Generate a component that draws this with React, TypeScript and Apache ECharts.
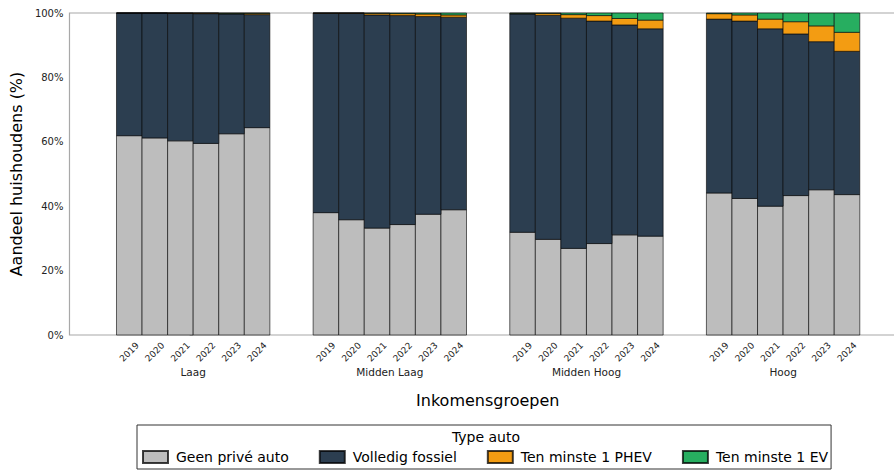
import React, { useEffect, useRef } from "react";
import * as echarts from "echarts";

const groups = ["Laag", "Midden Laag", "Midden Hoog", "Hoog"];
const years = ["2019", "2020", "2021", "2022", "2023", "2024"];
const seriesNames = ["Geen privé auto", "Volledig fossiel", "Ten minste 1 PHEV", "Ten minste 1 EV"];

// values per group (Laag, Midden Laag, Midden Hoog, Hoog) x year 2019..2024, in %
const geenAuto = [
  61.9, 61.2, 60.3, 59.5, 62.5, 64.4,
  38.0, 35.8, 33.2, 34.3, 37.5, 38.9,
  31.9, 29.7, 26.9, 28.4, 31.1, 30.7,
  44.1, 42.4, 40.0, 43.3, 45.1, 43.6,
];
const fossiel = [
  38.1, 38.8, 39.6, 40.3, 37.2, 35.1,
  61.9, 64.1, 66.2, 64.9, 61.4, 59.8,
  67.8, 69.6, 71.5, 69.1, 65.2, 64.4,
  54.0, 55.1, 55.1, 50.2, 46.0, 44.5,
];
const phev = [
  0.0, 0.0, 0.1, 0.2, 0.2, 0.4,
  0.1, 0.1, 0.5, 0.6, 0.8, 0.7,
  0.2, 0.6, 1.1, 1.7, 2.0, 2.7,
  1.7, 1.9, 3.0, 3.8, 4.9, 5.9,
];
const ev = [
  0.0, 0.0, 0.0, 0.0, 0.1, 0.1,
  0.0, 0.0, 0.1, 0.2, 0.3, 0.6,
  0.1, 0.1, 0.5, 0.8, 1.7, 2.2,
  0.2, 0.6, 1.9, 2.7, 4.0, 6.0,
];
const seriesValues = [geenAuto, fossiel, phev, ev];

const colors = ["#bdbdbd", "#2c3e50", "#f39c12", "#27ae60"];
const EDGE = "rgba(0,0,0,0.75)";
const BAR_W = 0.13;
const X_MIN = -0.629;
const X_MAX = 3.625;
const FONT = "DejaVu Sans";

const centers = groups.flatMap((_, gi) => years.map((_, j) => gi + (j - 2.5) * BAR_W));

export default function App() {
  const ref = useRef<HTMLDivElement>(null);
  useEffect(() => {
    if (!ref.current) return;
    const chart = echarts.init(ref.current, null, { renderer: "svg" });

    const series = seriesNames.map((name, si) => {
      const data = centers.map((c, i) => {
        let base = 0;
        for (let k = 0; k < si; k++) base += seriesValues[k][i];
        return [c, base, seriesValues[si][i]];
      });
      return {
        name,
        type: "custom",
        xAxisIndex: 0,
        yAxisIndex: 0,
        itemStyle: { color: colors[si], borderColor: EDGE, borderWidth: 0.8 },
        encode: { x: 0, y: 2 },
        data,
        renderItem: (params: any, api: any) => {
          const x = api.value(0);
          const base = api.value(1);
          const val = api.value(2);
          const p0 = api.coord([x, base]);
          const p1 = api.coord([x, base + val]);
          const w = api.size([BAR_W, 0])[0];
          return {
            type: "rect",
            shape: { x: p0[0] - w / 2, y: p1[1], width: w, height: p0[1] - p1[1] },
            style: { fill: colors[si], stroke: EDGE, lineWidth: 0.8 },
          };
        },
      };
    });

    const option: any = {
      animation: false,
      textStyle: { fontFamily: FONT },
      grid: {
        left: 68,
        top: 13,
        width: 838,
        height: 322,
        show: true,
        borderColor: "#a8a8a8",
        borderWidth: 1.2,
        backgroundColor: "transparent",
      },
      xAxis: [
        {
          type: "value",
          min: X_MIN,
          max: X_MAX,
          axisLine: { show: false },
          axisTick: { show: false },
          splitLine: { show: false },
          axisLabel: {
            customValues: centers,
            formatter: (v: number) => {
              const i = centers.findIndex((c) => Math.abs(c - v) < 1e-6);
              return i >= 0 ? years[i % years.length] : "";
            },
            rotate: 45,
            align: "center",
            verticalAlign: "middle",
            margin: 17,
            fontSize: 9,
            color: "#222",
            fontFamily: FONT,
          },
        },
        {
          type: "value",
          min: X_MIN,
          max: X_MAX,
          position: "bottom",
          axisLine: { show: false },
          axisTick: { show: false },
          splitLine: { show: false },
          axisLabel: {
            customValues: groups.map((_, i) => i),
            formatter: (v: number) => groups[Math.round(v)] ?? "",
            margin: 31,
            fontSize: 10.5,
            color: "#222",
            fontFamily: FONT,
          },
          name: "Inkomensgroepen",
          nameLocation: "middle",
          nameGap: 57,
          nameTextStyle: { fontSize: 16, color: "#000", fontFamily: FONT },
        },
      ],
      yAxis: {
        type: "value",
        min: 0,
        max: 100,
        interval: 20,
        axisLine: { show: false },
        axisTick: { show: true, length: 3.5, lineStyle: { color: "#a8a8a8" } },
        splitLine: { show: false },
        axisLabel: { formatter: "{value}%", fontSize: 10, color: "#222", margin: 6, fontFamily: FONT },
        name: "Aandeel huishoudens (%)",
        nameLocation: "middle",
        nameGap: 40,
        nameTextStyle: { fontSize: 16, color: "#000", fontFamily: FONT },
      },
      legend: {
        left: 137,
        top: 425,
        orient: "horizontal",
        icon: "rect",
        itemWidth: 25,
        itemHeight: 12,
        itemGap: 30,
        padding: [25, 3, 5, 5],
        borderColor: "#333",
        borderWidth: 1,
        borderRadius: 0,
        textStyle: { fontSize: 14, color: "#000", fontFamily: FONT, padding: [0, 0, 0, 3] },
        data: seriesNames,
      },
      graphic: [
        {
          type: "text",
          x: 486,
          y: 437,
          style: {
            text: "Type auto",
            fontSize: 14,
            fontFamily: FONT,
            fill: "#000",
            align: "center",
            verticalAlign: "middle",
          },
        },
      ],
      series,
    };
    chart.setOption(option);
    return () => chart.dispose();
  }, []);
  return (
    <div
      style={{ position: "absolute", left: 0, top: 0, width: 894, height: 474, overflow: "hidden" }}
    >
      <div ref={ref} style={{ width: 930, height: 474 }} />
    </div>
  );
}
